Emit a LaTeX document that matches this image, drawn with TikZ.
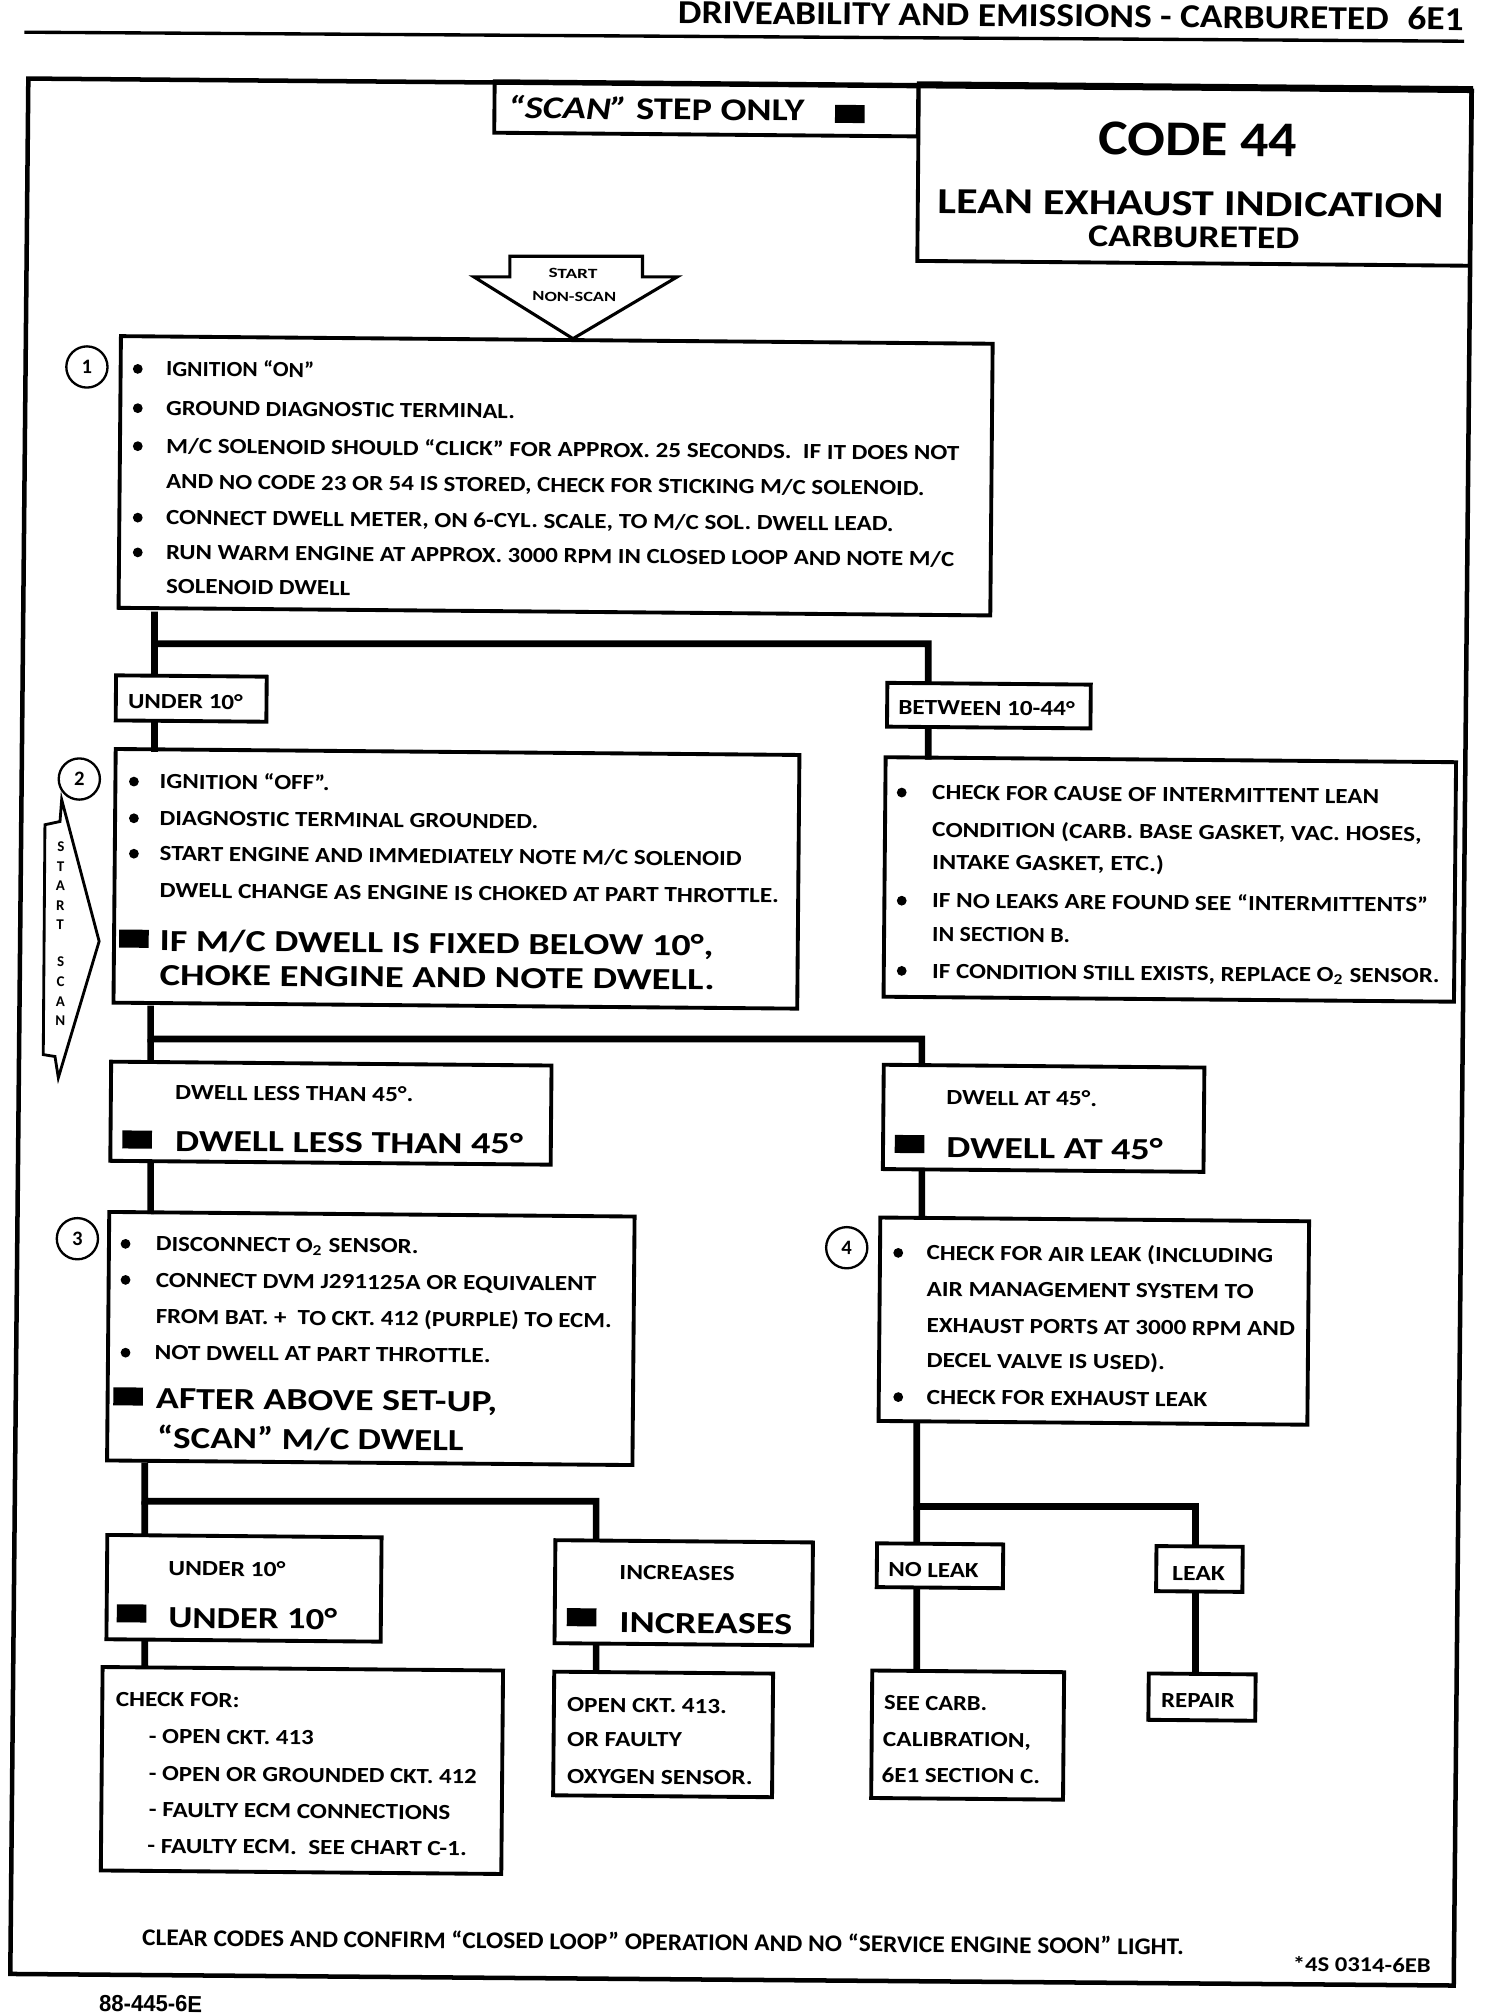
\documentclass[tikz,border=0pt]{standalone}
\usepackage{fontspec}
\usepackage{graphicx}
\setmainfont{Carlito}
\newfontfamily\arialfont{Liberation Sans}
\newlength\pxu \setlength\pxu{0.5pt}
\newcommand\fw[2]{\resizebox{#1\pxu}{\height}{#2}}
\tikzset{
  sm/.style={font=\fontsize{8.4}{10}\selectfont\bfseries},
  bg/.style={font=\fontsize{11.9}{14}\selectfont\bfseries},
  txt/.style={anchor=base west, inner sep=0pt, outer sep=0pt},
  box/.style={draw, line width=1.5pt, inner sep=0pt, outer sep=0pt, rectangle},
  conn/.style={line width=2.6pt},
  bul/.style={circle, fill, inner sep=0pt, minimum size=3.8pt},
  blksq/.style={fill, inner sep=0pt, minimum width=11.5pt, minimum height=7pt},
  num/.style={draw, circle, line width=0.9pt, minimum size=16pt, inner sep=0pt, font=\fontsize{8}{9}\selectfont\bfseries},
  arr/.style={line width=1.2pt, line join=miter},
}
\newcommand\mkbox[5]{\node[box, minimum width={#4*0.5pt}, minimum height={#5*0.5pt}] (#1) at (#2,#3) {};}
\newcommand\tline[6]{\node[txt,#1] (#2) at (#3,#4) {\fw{#5}{#6}};}
\newcommand\bull[3]{\node[bul] (#1) at (#2,#3) {};}
\newcommand\blk[3]{\node[blksq] (#1) at (#2,#3) {};}
\begin{document}
\begin{tikzpicture}[x=0.5pt,y=-0.5pt]
\useasboundingbox[fill=white] (0,0) rectangle (1168,1564);
\begin{scope}[transform canvas={rotate=-0.5}]
\begin{scope}[rotate=0.5]

% header and frame
\node[anchor=base east, inner sep=0pt, font=\fontsize{13}{15}\selectfont\bfseries] (hdr) at (1137,23.5) {\fw{610}{DRIVEABILITY AND EMISSIONS - CARBURETED\hspace{0.5em}6E1}};
\draw[line width=1.3pt] (19,25) -- (1137,32);
\draw[line width=1.75pt, line join=miter] (22,61) -- (1143,70.5) -- (1129,1542) -- (8,1533) -- cycle;

% title boxes
\mkbox{scanbox}{548.5}{84.5}{329}{40}
\mkbox{codebox}{927.5}{135.5}{429}{138}
\node[txt, font=\fontsize{12.3}{14}\selectfont\bfseries] (scantxt) at (394.7,92) {\fw{230}{\textit{“SCAN”} STEP ONLY}};
\blk{scansq}{660}{88.5}
\node[txt, font=\fontsize{19.4}{22}\selectfont\bfseries] (codetxt) at (853,120.3) {\fw{154}{CODE 44}};
\node[txt, font=\fontsize{14.2}{16}\selectfont\bfseries] (leantxt) at (728,165.6) {\fw{393}{LEAN EXHAUST INDICATION}};
\node[txt, font=\fontsize{12.3}{14}\selectfont\bfseries] (carbtxt) at (845,191.5) {\fw{164}{CARBURETED}};

% start non-scan arrow
\draw[arr] (396,199) -- (499,199) -- (499,215) -- (526,215) -- (445,263) -- (368,215) -- (396,215) -- cycle;
\node[anchor=base, inner sep=0pt, font=\fontsize{5.5}{6}\selectfont\bfseries] (sttxt) at (445,216) {\fw{38}{START}};
\node[anchor=base, inner sep=0pt, font=\fontsize{5.5}{6}\selectfont\bfseries] (nstxt) at (446,234) {\fw{65}{NON-SCAN}};

% start scan arrow
\draw[line width=1.1pt, line join=miter] (47.9,621) -- (77,731) -- (45.3,837) -- (42.7,820.5) -- (33.6,819) -- (34.9,640.5) -- (46.6,638) -- cycle;
\node[align=center, inner sep=0pt, font=\fontsize{5.8}{7.6}\selectfont\bfseries] (ss1) at (47,688) {S\\T\\A\\R\\T};
\node[align=center, inner sep=0pt, font=\fontsize{5.8}{7.6}\selectfont\bfseries] (ss2) at (47,770) {S\\C\\A\\N};

% step 1
\mkbox{b1}{431.5}{369.5}{677}{211}
\node[num] (c1) at (67.5,285) {1};
\bull{b1p1}{107}{286.5}
\bull{b1p2}{107}{317}
\bull{b1p3}{107}{346.5}
\bull{b1p5}{107}{402}
\bull{b1p6}{107}{429}
\tline{sm}{b1t1}{129}{292}{115}{IGNITION “ON”}
\tline{sm}{b1t2}{129}{322.5}{271}{GROUND DIAGNOSTIC TERMINAL.}
\tline{sm}{b1t3}{129}{352}{616}{M/C SOLENOID SHOULD “CLICK” FOR APPROX. 25 SECONDS.\ \ IF IT DOES NOT}
\tline{sm}{b1t4}{129}{379.5}{589}{AND NO CODE 23 OR 54 IS STORED, CHECK FOR STICKING M/C SOLENOID.}
\tline{sm}{b1t5}{129}{407.5}{565}{CONNECT DWELL METER, ON 6-CYL. SCALE, TO M/C SOL. DWELL LEAD.}
\tline{sm}{b1t6}{129}{434.5}{612}{RUN WARM ENGINE AT APPROX. 3000 RPM IN CLOSED LOOP AND NOTE M/C}
\tline{sm}{b1t7}{129}{461}{143}{SOLENOID DWELL}

% first split
\mkbox{und1}{148.5}{542.5}{117}{35}
\tline{sm}{und1t}{99.5}{550}{89}{UNDER 10°}
\mkbox{betw}{768}{548}{158}{34}
\tline{sm}{betwt}{697.6}{555}{137}{BETWEEN 10-44°}

% step 2
\mkbox{b2}{354.5}{682.5}{531}{197}
\node[num] (c2) at (61.6,605) {2};
\bull{b2p1}{104}{607}
\bull{b2p2}{104}{635.5}
\bull{b2p3}{104}{663}
\tline{sm}{b2t1}{124}{612.5}{132}{IGNITION “OFF”.}
\tline{sm}{b2t2}{124}{641}{294}{DIAGNOSTIC TERMINAL GROUNDED.}
\tline{sm}{b2t3}{124}{668.5}{452}{START ENGINE AND IMMEDIATELY NOTE M/C SOLENOID}
\tline{sm}{b2t4}{124}{697}{481}{DWELL CHANGE AS ENGINE IS CHOKED AT PART THROTTLE.}
\blk{b2sq}{104}{729}
\tline{bg}{b2t5}{124}{738.5}{430}{IF M/C DWELL IS FIXED BELOW 10°,}
\tline{bg}{b2t6}{124}{765}{431}{CHOKE ENGINE AND NOTE DWELL.}

% right box (between 10-44)
\mkbox{rbox}{908.5}{683}{443}{186}
\bull{rbp1}{700.3}{615.5}
\bull{rbp2}{700.3}{699.5}
\bull{rbp3}{700.3}{754}
\tline{sm}{rbt1}{724}{621}{347}{CHECK FOR CAUSE OF INTERMITTENT LEAN}
\tline{sm}{rbt2}{724}{650}{380}{CONDITION (CARB. BASE GASKET, VAC. HOSES,}
\tline{sm}{rbt3}{724}{675}{180}{INTAKE GASKET, ETC.)}
\tline{sm}{rbt4}{724}{705}{385}{IF NO LEAKS ARE FOUND SEE “INTERMITTENTS”}
\tline{sm}{rbt5}{724}{731}{107}{IN SECTION B.}
\tline{sm}{rbt6}{724}{760}{394}{IF CONDITION STILL EXISTS, REPLACE O\textsubscript{2} SENSOR.}

% second split
\mkbox{dless}{257}{864.5}{342}{77}
\tline{sm}{dlesst1}{136}{854}{185}{DWELL LESS THAN 45°.}
\blk{dlesssq}{106.5}{885}
\tline{bg}{dlesst2}{136}{894}{270}{DWELL LESS THAN 45°}
\mkbox{dat}{810.5}{868.5}{249}{81}
\tline{sm}{datt1}{735}{858}{117}{DWELL AT 45°.}
\blk{datsq}{706.4}{888.5}
\tline{bg}{datt2}{735}{899.3}{168}{DWELL AT 45°}

% step 3
\mkbox{b3}{288}{1039.5}{408}{193}
\node[num] (c3) at (60.1,962) {3};
\bull{b3p1}{97.5}{966}
\bull{b3p2}{97.5}{994}
\bull{b3p4}{97.5}{1050.5}
\tline{sm}{b3t1}{121}{971.5}{204}{DISCONNECT O\textsubscript{2} SENSOR.}
\tline{sm}{b3t2}{121}{999.7}{342}{CONNECT DVM J291125A OR EQUIVALENT}
\tline{sm}{b3t3}{121}{1028}{354}{FROM BAT. +\ \ TO CKT. 412 (PURPLE) TO ECM.}
\tline{sm}{b3t4}{120}{1056}{261}{NOT DWELL AT PART THROTTLE.}
\blk{b3sq}{99.5}{1084.5}
\tline{bg}{b3t5}{121}{1094}{265}{AFTER ABOVE SET-UP,}
\tline{bg}{b3t6}{122}{1124.5}{238}{“SCAN” M/C DWELL}

% step 4
\mkbox{b4}{849.5}{1026}{333}{158}
\node[num] (c4) at (657.6,969) {4};
\bull{b4p1}{697.6}{973}
\bull{b4p5}{697.6}{1085}
\tline{sm}{b4t1}{719.6}{978.5}{269}{CHECK FOR AIR LEAK (INCLUDING}
\tline{sm}{b4t2}{719.6}{1006.5}{254}{AIR MANAGEMENT SYSTEM TO}
\tline{sm}{b4t3}{719.6}{1035}{286}{EXHAUST PORTS AT 3000 RPM AND}
\tline{sm}{b4t4}{719.6}{1062}{185}{DECEL VALVE IS USED).}
\tline{sm}{b4t5}{719.6}{1090.5}{218}{CHECK FOR EXHAUST LEAK}

% third split, left
\mkbox{und2}{189.5}{1233.5}{213}{81}
\tline{sm}{und2t1}{130.7}{1223.6}{91}{UNDER 10°}
\blk{und2sq}{102.2}{1253}
\tline{bg}{und2t2}{130.7}{1264.3}{131}{UNDER 10°}
\mkbox{incr}{531}{1237}{200}{80}
\tline{sm}{incrt1}{481.1}{1226.7}{89.3}{INCREASES}
\blk{incrsq}{451.7}{1256}
\tline{bg}{incrt2}{481.1}{1268}{134}{INCREASES}

\mkbox{chk}{234.5}{1375}{311}{158}
\tline{sm}{chkt1}{90}{1325}{96}{CHECK FOR:}
\tline{sm}{chkt2}{115.7}{1354}{128}{- OPEN CKT. 413}
\tline{sm}{chkt3}{115.7}{1383}{254.6}{- OPEN OR GROUNDED CKT. 412}
\tline{sm}{chkt4}{115.7}{1411}{234}{- FAULTY ECM CONNECTIONS}
\tline{sm}{chkt5}{114.5}{1439}{248}{- FAULTY ECM.\ \ SEE CHART C-1.}

\mkbox{openb}{515}{1347}{170}{96}
\tline{sm}{openbt1}{440.5}{1329.5}{124}{OPEN CKT. 413.}
\tline{sm}{openbt2}{440.5}{1356}{89}{OR FAULTY}
\tline{sm}{openbt3}{440.5}{1385}{144}{OXYGEN SENSOR.}

% third split, right
\mkbox{noleak}{730}{1216}{98}{34}
\tline{sm}{noleakt}{690}{1224.6}{70}{NO LEAK}
\mkbox{leak}{931.5}{1218.5}{67}{35}
\tline{sm}{leakt}{910.3}{1227.4}{41}{LEAK}
\mkbox{carb}{751.5}{1347.5}{149}{99}
\tline{sm}{carbt1}{686.7}{1328}{80}{SEE CARB.}
\tline{sm}{carbt2}{685.7}{1356}{115}{CALIBRATION,}
\tline{sm}{carbt3}{684.7}{1384}{123}{6E1 SECTION C.}
\mkbox{repair}{933.5}{1318}{83}{36}
\tline{sm}{repairt}{901.8}{1326}{57}{REPAIR}

% connectors
\coordinate (j1) at (120,500);
\coordinate (j1r) at (721,505);
\draw[conn] (j1 |- b1.south) -- (j1) -- (j1 -| j1r) -- (j1r |- betw.north);
\draw[conn] (j1) -- (j1 |- und1.north);
\draw[conn] (und1.south -| j1) -- (b2.north -| j1);
\draw[conn] (betw.south -| j1r) -- (rbox.north -| j1r);
\coordinate (j2) at (117,807);
\coordinate (j2r) at (716,812);
\draw[conn] (j2 |- b2.south) -- (j2) -- (j2 -| j2r) -- (j2r |- dat.north);
\draw[conn] (j2) -- (j2 |- dless.north);
\draw[conn] (dless.south -| j2) -- (b3.north -| j2);
\draw[conn] (dat.south -| j2r) -- (b4.north -| j2r);
\coordinate (j3) at (112.5,1166);
\coordinate (j3r) at (463,1167);
\draw[conn] (j3 |- b3.south) -- (j3) -- (j3 -| j3r) -- (j3r |- incr.north);
\draw[conn] (j3) -- (j3 |- und2.north);
\draw[conn] (und2.south -| j3) -- (chk.north -| j3);
\draw[conn] (incr.south -| j3r) -- (openb.north -| j3r);
\coordinate (j4) at (712,1170);
\coordinate (j4r) at (928.5,1171);
\draw[conn] (j4 |- b4.south) -- (j4) -- (j4 -| j4r) -- (j4r |- leak.north);
\draw[conn] (j4) -- (j4 |- noleak.north);
\draw[conn] (noleak.south -| j4) -- (carb.north -| j4);
\draw[conn] (leak.south -| j4r) -- (repair.north -| j4r);

% footer
\node[txt, font=\fontsize{9.3}{11}\selectfont\bfseries] (clear) at (110.4,1511) {\fw{809}{CLEAR CODES AND CONFIRM “CLOSED LOOP” OPERATION AND NO “SERVICE ENGINE SOON” LIGHT.}};
\node[txt, font=\fontsize{8.2}{10}\selectfont\bfseries] (code4s) at (1004,1531) {\fw{107}{*4S 0314-6EB}};
\node[txt, font=\arialfont\fontsize{9}{10}\selectfont\bfseries] (figref) at (77,1562) {\fw{80}{88-445-6E}};

\end{scope}
\end{scope}
\end{tikzpicture}
\end{document}
